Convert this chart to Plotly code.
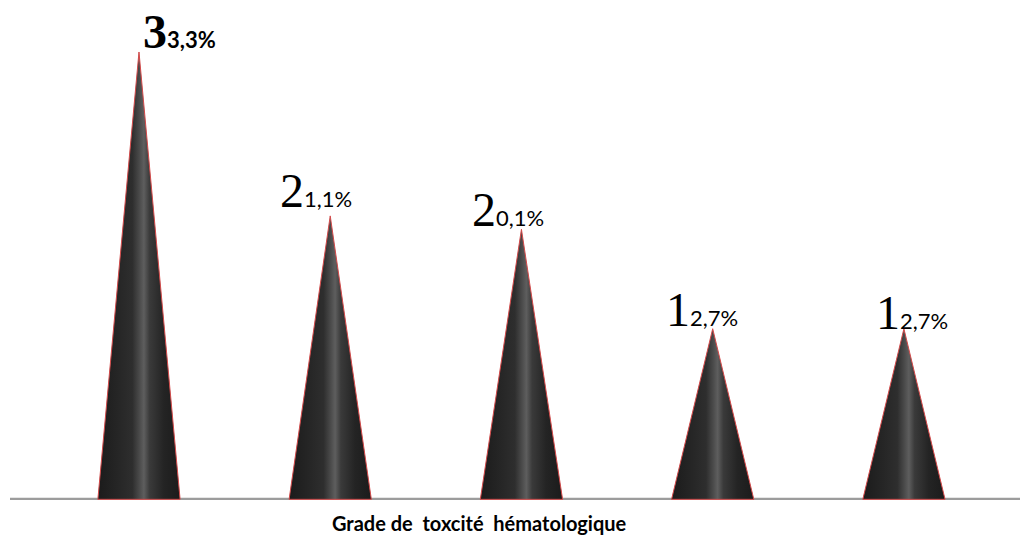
import plotly.graph_objects as go

# Haematological toxicity grade shares (%)
grades = ["Grade 1", "Grade 2", "Grade 3", "Grade 4", "Grade 5"]
values = [33.3, 21.1, 20.1, 12.7, 12.7]
lead_digits = ["3", "2", "2", "1", "1"]
tail_texts = ["3,3%", "1,1%", "0,1%", "2,7%", "2,7%"]
axis_title = "Grade de\u00a0 toxcité\u00a0 hématologique"

# label styling per cone
bold_label = [True, False, False, False, False]
label_xshift = [41, -14, -13, -11, 8]
label_yshift = [-8, -3, -9, -9, -12]

half_base = 0.215  # half cone base width, in category units

cone_scale = [
    [0.00, "#1b1b1b"],
    [0.25, "#262626"],
    [0.42, "#2e2e2e"],
    [0.51, "#4c4c4c"],
    [0.56, "#5e5e5e"],
    [0.63, "#3a3a3a"],
    [0.80, "#242424"],
    [1.00, "#1b1b1b"],
]

fig = go.Figure()
for i, v in enumerate(values):
    xs = [i - half_base, i, i + half_base, i - half_base]
    ys = [0, v, 0, 0]
    fig.add_trace(go.Scatter(
        x=xs, y=ys, mode="lines", fill="toself",
        fillgradient=dict(type="horizontal", colorscale=cone_scale),
        line=dict(color="#d44a4a", width=1),
        hoverinfo="skip", showlegend=False,
    ))

for i, v in enumerate(values):
    if bold_label[i]:
        txt = (f"<span style='font-family:Liberation Serif;font-size:48px'><b>{lead_digits[i]}</b></span>"
               f"<b>{tail_texts[i]}</b>")
    else:
        txt = (f"<span style='font-family:Liberation Serif;font-size:48px'>{lead_digits[i]}</span>"
               f"{tail_texts[i]}")
    fig.add_annotation(
        x=i, y=v, xref="x", yref="y", text=txt, showarrow=False,
        xanchor="center", yanchor="bottom",
        xshift=label_xshift[i], yshift=label_yshift[i],
        font=dict(family="Lato", size=22, color="#000000"),
    )

fig.add_annotation(
    x=0.465, y=-0.045, xref="paper", yref="paper", text=f"<b>{axis_title}</b>",
    showarrow=False, xanchor="center", yanchor="middle",
    font=dict(family="Lato", size=20, color="#000000"),
)

fig.update_layout(
    width=1020, height=537,
    margin=dict(l=10, r=0, t=0, b=37),
    paper_bgcolor="white", plot_bgcolor="white",
    xaxis=dict(range=[-0.6745, 4.607], showgrid=False, zeroline=False,
               showticklabels=False, ticks="", showline=False),
    yaxis=dict(range=[-0.05, 37.17], showgrid=False, zeroline=False,
               showticklabels=False, ticks="", showline=False),
)

# gray baseline along the bottom of the plot
fig.add_shape(type="line", xref="paper", yref="y", x0=0, x1=1, y0=0, y1=0,
              line=dict(color="#9c9c9c", width=3), layer="below")

fig.write_html("out.html")
